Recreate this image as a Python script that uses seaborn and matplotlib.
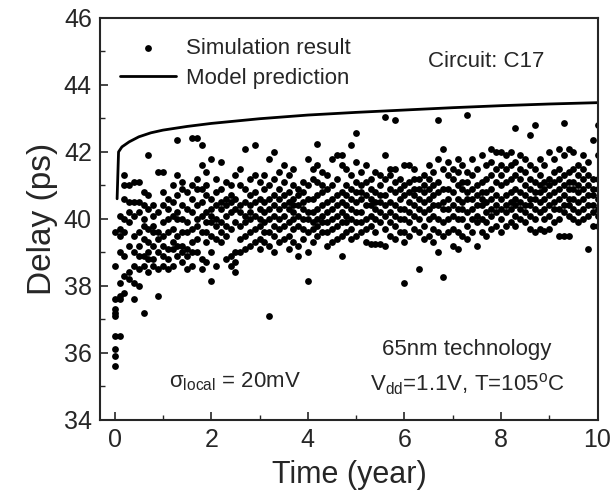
import numpy as np
import pandas as pd
import seaborn as sns
import matplotlib.pyplot as plt
from matplotlib.ticker import MultipleLocator

# sampling instants of the Monte Carlo simulation (years)
sim_times = [0.0, 0.1, 0.2, 0.3, 0.4, 0.5, 0.6, 0.7, 0.8, 0.9,
             1.0, 1.1, 1.2, 1.3, 1.4, 1.5, 1.6, 1.7, 1.8, 1.9,
             2.0, 2.1, 2.2, 2.3, 2.4, 2.5, 2.6, 2.7, 2.8, 2.9,
             3.0, 3.1, 3.2, 3.3, 3.4, 3.5, 3.6, 3.7, 3.8, 3.9,
             4.0, 4.1, 4.2, 4.3, 4.4, 4.5, 4.6, 4.7, 4.8, 4.9,
             5.0, 5.1, 5.2, 5.3, 5.4, 5.5, 5.6, 5.7, 5.8, 5.9,
             6.0, 6.1, 6.2, 6.3, 6.4, 6.5, 6.6, 6.7, 6.8, 6.9,
             7.0, 7.1, 7.2, 7.3, 7.4, 7.5, 7.6, 7.7, 7.8, 7.9,
             8.0, 8.1, 8.2, 8.3, 8.4, 8.5, 8.6, 8.7, 8.8, 8.9,
             9.0, 9.1, 9.2, 9.3, 9.4, 9.5, 9.6, 9.7, 9.8, 9.9, 10.0]

# simulated delays (ps) at each instant, one list per entry of sim_times
sim_delays = [
    [35.6, 35.9, 36.1, 36.5, 37.1, 37.2, 37.3, 37.6, 38.6, 39.6],
    [36.5, 37.6, 37.7, 38.1, 39.0, 39.5, 39.7, 40.1],
    [37.8, 38.3, 38.9, 39.6, 40.0, 40.6, 41.0, 41.3],
    [38.2, 38.4, 39.2, 39.9, 40.2, 40.5, 41.0],
    [37.6, 38.1, 38.6, 39.0, 39.5, 40.1, 40.5, 41.1],
    [38.0, 38.5, 38.9, 39.2, 39.6, 40.2, 40.5, 41.1],
    [37.2, 38.6, 38.9, 39.4, 39.8, 40.0, 40.4, 40.8],
    [38.4, 38.8, 39.0, 39.3, 39.7, 40.3, 40.7, 41.9],
    [38.6, 38.8, 39.2, 39.6, 39.8, 40.1, 40.4],
    [37.7, 38.5, 39.0, 39.4, 39.6, 40.2, 41.4],
    [38.6, 38.9, 39.2, 39.5, 39.9, 40.4, 40.8, 41.4],
    [38.5, 38.8, 39.1, 39.6, 40.0, 40.3, 40.6],
    [38.6, 39.1, 39.3, 39.7, 40.1, 40.5, 41.0],
    [38.9, 39.2, 39.5, 40.0, 40.2, 40.7, 41.3, 42.35],
    [38.7, 39.0, 39.2, 39.6, 40.0, 40.4, 40.9, 41.1],
    [38.5, 38.9, 39.1, 39.6, 39.9, 40.3, 40.8],
    [38.6, 39.0, 39.3, 39.7, 40.2, 40.6, 41.0, 42.4],
    [39.0, 39.4, 39.8, 40.0, 40.4, 40.9, 41.2, 42.4],
    [38.5, 38.8, 39.6, 40.1, 40.5, 40.9, 41.6, 42.2],
    [38.7, 39.3, 39.6, 39.9, 40.2, 40.7, 41.0, 41.4],
    [38.15, 39.0, 39.5, 39.9, 40.1, 40.3, 40.6, 41.8],
    [38.6, 39.4, 39.8, 40.0, 40.4, 40.8, 41.2],
    [39.3, 39.6, 39.9, 40.3, 40.5, 40.9, 41.7],
    [38.8, 39.5, 39.8, 40.1, 40.4, 40.6, 41.1],
    [38.6, 38.9, 39.7, 40.2, 40.5, 40.7, 41.0],
    [38.4, 38.7, 39.0, 39.9, 40.3, 40.6, 41.3],
    [39.0, 39.4, 39.8, 40.2, 40.4, 41.0, 41.5],
    [39.1, 39.5, 39.9, 40.1, 40.5, 40.9, 42.1],
    [39.2, 39.6, 40.0, 40.2, 40.4, 40.7, 41.2],
    [39.3, 39.7, 40.1, 40.5, 40.8, 41.3, 42.2],
    [39.1, 39.4, 39.8, 40.0, 40.3, 40.6, 41.1],
    [39.3, 39.6, 39.9, 40.2, 40.5, 40.9, 41.3],
    [37.1, 39.2, 39.6, 40.0, 40.3, 40.6, 41.0, 41.8],
    [39.0, 39.5, 39.8, 40.1, 40.4, 40.7, 41.2, 42.0],
    [39.3, 39.7, 40.0, 40.3, 40.6, 40.9, 41.4],
    [39.4, 39.8, 40.1, 40.4, 40.7, 41.1, 41.6],
    [39.1, 39.5, 39.9, 40.3, 40.5, 40.8, 41.3],
    [39.3, 39.7, 40.0, 40.2, 40.4, 40.6, 41.0, 41.5],
    [38.9, 39.2, 39.8, 40.1, 40.4, 40.7, 40.9],
    [39.4, 39.7, 40.0, 40.3, 40.5, 40.8, 41.1],
    [38.15, 39.0, 39.6, 40.0, 40.2, 40.6, 41.0, 41.8],
    [39.3, 39.7, 39.9, 40.2, 40.6, 41.2, 41.5],
    [39.5, 39.8, 40.0, 40.3, 40.7, 41.1, 41.6, 42.25],
    [39.6, 39.9, 40.1, 40.4, 40.8, 41.0, 41.4],
    [39.2, 39.6, 39.9, 40.2, 40.5, 40.9, 41.3],
    [39.3, 39.7, 40.0, 40.3, 40.6, 41.0, 41.8],
    [39.4, 39.8, 40.1, 40.4, 40.7, 41.2, 41.9],
    [38.9, 39.5, 39.9, 40.2, 40.5, 40.8, 41.6, 41.9],
    [39.6, 39.9, 40.1, 40.4, 40.7, 41.0, 41.5],
    [39.4, 39.7, 40.0, 40.3, 40.6, 40.9, 41.3, 42.2],
    [39.5, 39.9, 40.2, 40.5, 40.8, 41.1, 41.7, 42.55],
    [39.6, 39.9, 40.2, 40.6, 40.8, 41.0, 41.4],
    [39.3, 39.7, 40.0, 40.4, 40.7, 41.1, 41.6],
    [39.25, 39.8, 40.1, 40.4, 40.6, 40.9, 41.2],
    [39.25, 39.6, 40.0, 40.3, 40.5, 40.8, 41.4],
    [39.25, 39.9, 40.2, 40.5, 40.7, 41.0, 41.3],
    [39.2, 39.7, 40.1, 40.4, 40.7, 41.2, 41.9, 43.05],
    [39.5, 39.9, 40.2, 40.5, 40.9, 41.3, 41.5],
    [39.4, 39.8, 40.1, 40.4, 40.8, 41.1, 41.5, 42.95],
    [39.6, 40.0, 40.3, 40.6, 40.9, 41.2],
    [38.1, 39.3, 39.6, 40.0, 40.3, 40.7, 41.0, 41.6],
    [39.5, 39.9, 40.2, 40.5, 40.8, 41.1, 41.6],
    [39.7, 40.1, 40.4, 40.7, 40.9, 41.2, 41.5],
    [38.5, 39.6, 40.0, 40.3, 40.6, 40.9, 41.2],
    [39.4, 39.8, 40.2, 40.5, 40.8, 41.0, 41.3],
    [39.5, 40.0, 40.3, 40.6, 40.9, 41.2, 41.6],
    [39.3, 39.7, 40.1, 40.4, 40.7, 41.0, 41.4],
    [39.0, 39.6, 40.0, 40.4, 40.8, 41.1, 41.8, 42.95],
    [38.25, 39.5, 39.9, 40.3, 40.5, 40.9, 41.5, 42.1],
    [39.6, 40.0, 40.3, 40.6, 40.9, 41.3, 41.7],
    [39.2, 39.7, 40.1, 40.4, 40.8, 41.2, 41.5],
    [39.1, 39.6, 40.0, 40.3, 40.6, 41.0, 41.4, 41.8],
    [39.5, 40.0, 40.3, 40.5, 40.9, 41.1, 41.6],
    [39.4, 39.8, 40.2, 40.6, 40.8, 41.1, 41.4, 43.1],
    [39.6, 40.0, 40.3, 40.6, 40.9, 41.3, 41.8],
    [39.2, 39.9, 40.1, 40.4, 40.7, 41.0, 41.5],
    [39.6, 40.0, 40.4, 40.6, 40.8, 41.1, 41.9],
    [39.5, 39.9, 40.2, 40.5, 40.8, 41.2, 41.6],
    [39.7, 40.1, 40.3, 40.6, 40.9, 41.3, 41.7, 42.1],
    [39.8, 40.2, 40.4, 40.7, 41.1, 41.5, 42.0],
    [39.6, 40.0, 40.3, 40.6, 41.0, 41.3, 41.6, 42.0],
    [39.8, 40.2, 40.4, 40.7, 41.1, 41.5, 41.9],
    [39.9, 40.3, 40.5, 40.8, 41.2, 41.6, 42.0],
    [39.8, 40.1, 40.4, 40.6, 40.9, 41.3, 41.7, 42.7],
    [40.0, 40.3, 40.5, 40.8, 41.2, 41.5, 41.9],
    [39.9, 40.2, 40.4, 40.7, 41.0, 41.4, 41.8],
    [39.7, 40.1, 40.4, 40.6, 40.9, 41.2, 41.6, 42.5],
    [39.6, 40.0, 40.3, 40.6, 40.8, 41.1, 41.5, 42.8],
    [39.7, 40.2, 40.5, 40.8, 41.0, 41.3, 41.8],
    [39.65, 40.0, 40.3, 40.6, 40.9, 41.1, 41.6],
    [39.7, 40.1, 40.4, 40.7, 41.0, 41.2, 42.0],
    [39.9, 40.3, 40.5, 40.8, 41.1, 41.4, 41.8],
    [39.5, 40.0, 40.3, 40.6, 40.9, 41.2, 41.5, 42.1],
    [39.5, 40.2, 40.4, 40.7, 41.0, 41.3, 41.9, 42.85],
    [39.5, 40.1, 40.4, 40.6, 40.9, 41.1, 41.4, 42.1],
    [40.0, 40.3, 40.6, 40.9, 41.1, 41.5, 42.0],
    [39.9, 40.2, 40.5, 40.8, 41.0, 41.3, 41.6],
    [40.0, 40.3, 40.6, 40.9, 41.2, 41.5, 41.9],
    [39.1, 40.1, 40.4, 40.7, 41.0, 41.3, 41.7],
    [39.8, 40.2, 40.4, 40.7, 40.9, 41.2, 42.35],
    [39.8, 40.1, 40.3, 40.6, 40.9, 41.2, 41.9, 42.8],
]

# model prediction curve
model_time = [0.05, 0.08, 0.15, 0.3, 0.5, 0.75, 1.0, 1.5, 2.0, 3.0,
              4.0, 5.0, 6.0, 7.0, 8.0, 9.0, 10.0]
model_delay = [40.6, 42.0, 42.15, 42.3, 42.45, 42.57, 42.65, 42.76, 42.85, 42.99,
               43.1, 43.18, 43.25, 43.32, 43.38, 43.43, 43.47]

sim = pd.DataFrame({"time": sim_times, "delay": sim_delays}).explode("delay")
sim["delay"] = sim["delay"].astype(float)
model = pd.DataFrame({"time": model_time, "delay": model_delay})

sns.set_style("ticks")
plt.rcParams["font.family"] = ["Liberation Sans", "DejaVu Sans"]
plt.rcParams["mathtext.fontset"] = "custom"
plt.rcParams["mathtext.rm"] = "Liberation Sans"
plt.rcParams["mathtext.it"] = "Liberation Sans:italic"

fig = plt.figure(figsize=(6.11, 4.98), dpi=100)
ax = fig.add_axes([0.164, 0.157, 0.814, 0.807])

sns.scatterplot(data=sim, x="time", y="delay", ax=ax, color="black", s=24,
                linewidth=0, label="Simulation result")
sns.lineplot(data=model, x="time", y="delay", ax=ax, color="black", lw=2.0,
             label="Model prediction")

ax.set_xlim(-0.3, 10)
ax.set_ylim(34, 46)
ax.xaxis.set_major_locator(MultipleLocator(2))
ax.xaxis.set_minor_locator(MultipleLocator(1))
ax.yaxis.set_major_locator(MultipleLocator(2))
ax.yaxis.set_minor_locator(MultipleLocator(1))
ax.tick_params(which="major", direction="in", length=6, width=1.2, labelsize=18, pad=6)
ax.tick_params(which="minor", direction="in", length=3.5, width=1.0)
for sp in ax.spines.values():
    sp.set_linewidth(1.5)

ax.set_xlabel("Time (year)", fontsize=22, labelpad=6)
ax.set_ylabel("Delay (ps)", fontsize=24, labelpad=4)

ax.legend(loc="upper left", bbox_to_anchor=(0.0, 1.0), frameon=False,
          fontsize=16, handlelength=2.5, handletextpad=0.45, labelspacing=0.4,
          markerscale=1.0)

ax.text(7.7, 44.7, "Circuit: C17", fontsize=16, ha="center", va="center")
ax.text(2.5, 35.15, "σ$_{\\rm local}$ = 20mV", fontsize=16, ha="center", va="center")
ax.text(7.3, 36.1, "65nm technology", fontsize=16, ha="center", va="center")
ax.text(7.3, 35.05, r"V$_{\rm dd}$=1.1V, T=105$^{\rm o}$C", fontsize=16,
        ha="center", va="center")

fig.savefig("out.png", dpi=100)
